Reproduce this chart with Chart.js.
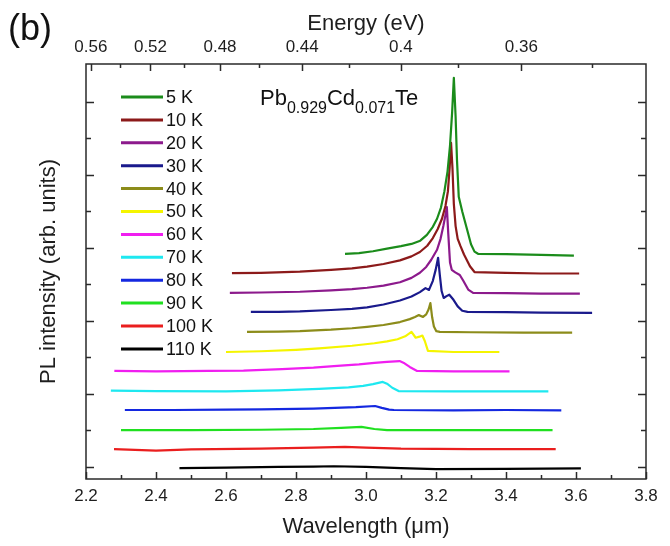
<!DOCTYPE html>
<html>
<head>
<meta charset="utf-8">
<title>PL spectra Pb0.929Cd0.071Te</title>
<script src="https://cdn.jsdelivr.net/npm/chart.js@4.4.1/dist/chart.umd.min.js"></script>
<style>
  html, body { margin: 0; padding: 0; background: #fff; }
  #wrap { width: 670px; height: 546px; }
</style>
</head>
<body>
<div id="wrap"><canvas id="chart" width="670" height="546"></canvas></div>
<script>
// PL spectra of Pb0.929Cd0.071Te at 5-110 K, curves shifted vertically
// x = wavelength (um), y = PL intensity (arb. units, offset per curve)

const temps = ['5 K', '10 K', '20 K', '30 K', '40 K', '50 K', '60 K', '70 K', '80 K', '90 K', '100 K', '110 K']
const colors = ['#1b8c1b', '#8c1a1a', '#8c1a8c', '#1a1a8c', '#8c8c1a', '#f5f500', '#f01ef0', '#1ee8f0', '#1428e0', '#20e020', '#ea1e1e', '#000000']

// [wavelength, intensity] pairs
const s5K = [[2.940, 5.84], [2.980, 5.86], [3.020, 5.91], [3.060, 5.98], [3.100, 6.05], [3.130, 6.11], [3.155, 6.20], [3.174, 6.36], [3.191, 6.58], [3.203, 6.80], [3.214, 7.10], [3.224, 7.55], [3.233, 8.1], [3.240, 8.8], [3.246, 9.7], [3.251, 10.66], [3.256, 9.6], [3.260, 8.4], [3.265, 7.4], [3.275, 7.0], [3.289, 6.5], [3.300, 6.1], [3.310, 5.90], [3.320, 5.84], [3.400, 5.83], [3.500, 5.81], [3.594, 5.79]]
const s10K = [[2.617, 5.31], [2.700, 5.32], [2.811, 5.35], [2.900, 5.40], [2.960, 5.44], [3.003, 5.49], [3.050, 5.56], [3.097, 5.66], [3.130, 5.77], [3.154, 5.89], [3.175, 6.06], [3.191, 6.27], [3.205, 6.52], [3.217, 6.80], [3.227, 7.15], [3.234, 7.55], [3.239, 8.2], [3.243, 8.88], [3.247, 8.2], [3.251, 7.2], [3.256, 6.6], [3.262, 6.25], [3.270, 6.05], [3.280, 5.82], [3.297, 5.50], [3.310, 5.34], [3.400, 5.32], [3.500, 5.30], [3.609, 5.30]]
const s20K = [[2.611, 4.77], [2.700, 4.78], [2.811, 4.80], [2.900, 4.84], [2.960, 4.87], [3.003, 4.91], [3.050, 4.97], [3.097, 5.06], [3.130, 5.18], [3.154, 5.32], [3.172, 5.48], [3.186, 5.67], [3.203, 5.95], [3.213, 6.25], [3.221, 6.60], [3.227, 6.90], [3.231, 7.12], [3.235, 6.4], [3.240, 5.6], [3.245, 5.40], [3.255, 5.33], [3.268, 5.26], [3.278, 5.10], [3.292, 4.86], [3.306, 4.77], [3.400, 4.76], [3.500, 4.75], [3.611, 4.75]]
const s30K = [[2.671, 4.25], [2.750, 4.25], [2.811, 4.26], [2.900, 4.30], [2.960, 4.33], [3.003, 4.37], [3.050, 4.45], [3.097, 4.56], [3.130, 4.67], [3.154, 4.79], [3.170, 4.90], [3.180, 4.85], [3.191, 5.10], [3.199, 5.40], [3.206, 5.73], [3.211, 5.25], [3.216, 4.82], [3.222, 4.63], [3.230, 4.68], [3.238, 4.72], [3.250, 4.58], [3.262, 4.40], [3.275, 4.28], [3.290, 4.25], [3.400, 4.24], [3.500, 4.23], [3.646, 4.22]]
const s40K = [[2.660, 3.70], [2.750, 3.71], [2.811, 3.72], [2.900, 3.76], [2.960, 3.80], [3.003, 3.84], [3.050, 3.89], [3.097, 3.97], [3.125, 4.05], [3.140, 4.11], [3.151, 4.16], [3.163, 4.11], [3.172, 4.18], [3.179, 4.32], [3.184, 4.49], [3.189, 4.10], [3.194, 3.85], [3.201, 3.72], [3.211, 3.70], [3.300, 3.69], [3.450, 3.68], [3.589, 3.68]]
const s50K = [[2.600, 3.15], [2.700, 3.17], [2.800, 3.21], [2.866, 3.25], [2.960, 3.32], [3.024, 3.39], [3.060, 3.44], [3.090, 3.50], [3.112, 3.58], [3.130, 3.70], [3.142, 3.54], [3.153, 3.57], [3.161, 3.60], [3.168, 3.45], [3.177, 3.18], [3.250, 3.15], [3.381, 3.15]]
const s60K = [[2.281, 2.63], [2.400, 2.62], [2.550, 2.63], [2.650, 2.64], [2.760, 2.68], [2.850, 2.72], [2.918, 2.77], [2.980, 2.81], [3.024, 2.85], [3.060, 2.88], [3.096, 2.90], [3.110, 2.84], [3.125, 2.74], [3.146, 2.63], [3.250, 2.62], [3.410, 2.62]]
const s70K = [[2.271, 2.09], [2.400, 2.08], [2.600, 2.07], [2.750, 2.10], [2.866, 2.14], [2.950, 2.18], [2.992, 2.22], [3.020, 2.27], [3.048, 2.33], [3.060, 2.28], [3.075, 2.17], [3.093, 2.08], [3.250, 2.07], [3.400, 2.07], [3.521, 2.07]]
const s80K = [[2.311, 1.56], [2.450, 1.56], [2.600, 1.57], [2.700, 1.58], [2.850, 1.60], [2.971, 1.64], [3.026, 1.67], [3.045, 1.62], [3.066, 1.57], [3.080, 1.56], [3.250, 1.55], [3.400, 1.56], [3.558, 1.55]]
const s90K = [[2.300, 1.01], [2.500, 1.01], [2.700, 1.02], [2.850, 1.04], [2.929, 1.07], [2.987, 1.10], [3.024, 1.04], [3.060, 1.01], [3.300, 1.01], [3.533, 1.01]]
const s100K = [[2.280, 0.49], [2.400, 0.45], [2.500, 0.48], [2.700, 0.50], [2.850, 0.53], [2.940, 0.55], [3.000, 0.53], [3.100, 0.50], [3.300, 0.49], [3.542, 0.49]]
const s110K = [[2.467, -0.03], [2.600, -0.02], [2.750, 0.00], [2.850, 0.01], [2.908, 0.02], [3.000, 0.00], [3.100, -0.03], [3.200, -0.06], [3.400, -0.05], [3.614, -0.04]]
const series = [s5K, s10K, s20K, s30K, s40K, s50K, s60K, s70K, s80K, s90K, s100K, s110K]

// bottom axis (wavelength), minor ticks get an empty label
const wlTicks = [2.2, 2.3, 2.4, 2.5, 2.6, 2.7, 2.8, 2.9, 3.0, 3.1, 3.2, 3.3, 3.4, 3.5, 3.6, 3.7, 3.8]
const wlLabels = ['2.2', '', '2.4', '', '2.6', '', '2.8', '', '3.0', '', '3.2', '', '3.4', '', '3.6', '', '3.8']

// top axis (photon energy), placed at lambda = hc / E
const eTicks = [0.56, 0.54, 0.52, 0.50, 0.48, 0.46, 0.44, 0.42, 0.40, 0.38, 0.36, 0.34]
const eLabels = ['0.56', '', '0.52', '', '0.48', '', '0.44', '', '0.4', '', '0.36', '']
const HC = 1.2398 // eV * um

// unlabeled y ticks (even ones drawn longer)
const yTicks = [0, 1, 2, 3, 4, 5, 6, 7, 8, 9, 10]

Chart.defaults.font.family = '"Liberation Sans", Arial, sans-serif'
Chart.defaults.color = '#1e1e1e'

const datasets = series.map((s, i) => ({
  label: temps[i],
  data: s.map(p => ({ x: p[0], y: p[1] })),
  borderColor: colors[i],
  borderWidth: 2.2,
  borderJoinStyle: 'round',
  pointRadius: 0,
  tension: 0,
  fill: false
}))

// box frame + inward tick marks on all four sides
const frameTicks = {
  id: 'frameTicks',
  afterDatasetsDraw (chart) {
    const { ctx, chartArea: a, scales } = chart
    ctx.save()
    ctx.strokeStyle = '#2a2a2a'
    ctx.lineWidth = 1.5
    ctx.strokeRect(a.left, a.top, a.right - a.left, a.bottom - a.top)
    ctx.beginPath()
    scales.x.ticks.forEach(t => {
      const px = Math.round(scales.x.getPixelForValue(t.value)) + 0.5
      const len = t.label ? 7 : 4
      ctx.moveTo(px, a.bottom)
      ctx.lineTo(px, a.bottom - len)
    })
    scales.x2.ticks.forEach(t => {
      const px = Math.round(scales.x2.getPixelForValue(t.value)) + 0.5
      const len = t.label ? 7 : 4
      ctx.moveTo(px, a.top)
      ctx.lineTo(px, a.top + len)
    })
    yTicks.forEach(v => {
      const py = Math.round(scales.y.getPixelForValue(v)) + 0.5
      const len = v % 2 === 0 ? 8 : 5
      ctx.moveTo(a.left, py)
      ctx.lineTo(a.left + len, py)
      ctx.moveTo(a.right, py)
      ctx.lineTo(a.right - len, py)
    })
    ctx.stroke()
    ctx.restore()
  }
}

// panel letter, compound name and the in-plot legend
const insideText = {
  id: 'insideText',
  afterDraw (chart) {
    const { ctx } = chart
    const fam = Chart.defaults.font.family
    ctx.save()
    ctx.fillStyle = '#111'
    ctx.textBaseline = 'middle'
    ctx.font = '36px ' + fam
    ctx.fillText('(b)', 8, 30)

    // Pb0.929Cd0.071Te with subscripts
    ctx.textBaseline = 'alphabetic'
    let x = 260
    const parts = [['Pb', 0], ['0.929', 1], ['Cd', 0], ['0.071', 1], ['Te', 0]]
    parts.forEach(([txt, sub]) => {
      ctx.font = (sub ? '16px ' : '22px ') + fam
      ctx.fillText(txt, x, sub ? 113 : 105)
      x += ctx.measureText(txt).width
    })

    // legend
    ctx.font = '18px ' + fam
    ctx.textBaseline = 'middle'
    chart.data.datasets.forEach((d, i) => {
      const y = 97 + i * 22.9
      ctx.strokeStyle = d.borderColor
      ctx.lineWidth = 3
      ctx.beginPath()
      ctx.moveTo(121, y)
      ctx.lineTo(163, y)
      ctx.stroke()
      ctx.fillStyle = '#111'
      ctx.fillText(d.label, 166, y + 1)
    })
    ctx.restore()
  }
}

new Chart(document.getElementById('chart'), {
  type: 'line',
  data: { datasets },
  options: {
    responsive: false,
    animation: false,
    layout: { padding: { right: 24 } },
    plugins: {
      legend: { display: false },
      tooltip: { enabled: false }
    },
    scales: {
      x: {
        type: 'linear',
        position: 'bottom',
        min: 2.2,
        max: 3.8,
        afterBuildTicks: s => { s.ticks = wlTicks.map(v => ({ value: v })) },
        afterFit: s => { s.height = 67 },
        ticks: {
          callback: (v, i) => wlLabels[i],
          autoSkip: false,
          maxRotation: 0,
          padding: 7,
          font: { size: 17 }
        },
        grid: { display: false, drawTicks: false },
        border: { display: false },
        title: { display: true, text: 'Wavelength (\u03bcm)', font: { size: 22 }, padding: { bottom: 6 } }
      },
      x2: {
        type: 'linear',
        position: 'top',
        min: 2.2,
        max: 3.8,
        afterBuildTicks: s => { s.ticks = eTicks.map(e => ({ value: HC / e })) },
        afterFit: s => { s.height = 64 },
        ticks: {
          callback: (v, i) => eLabels[i],
          autoSkip: false,
          maxRotation: 0,
          padding: 6,
          font: { size: 17 }
        },
        grid: { display: false, drawTicks: false },
        border: { display: false },
        title: { display: true, text: 'Energy (eV)', font: { size: 22 }, padding: { top: 11 } }
      },
      y: {
        type: 'linear',
        min: -0.33,
        max: 11.04,
        afterFit: s => { s.width = 86 },
        ticks: { display: false },
        grid: { display: false, drawTicks: false },
        border: { display: false },
        title: { display: true, text: 'PL intensity (arb. units)', font: { size: 22 }, padding: { top: 36 } }
      }
    }
  },
  plugins: [frameTicks, insideText]
})
</script>
</body>
</html>
